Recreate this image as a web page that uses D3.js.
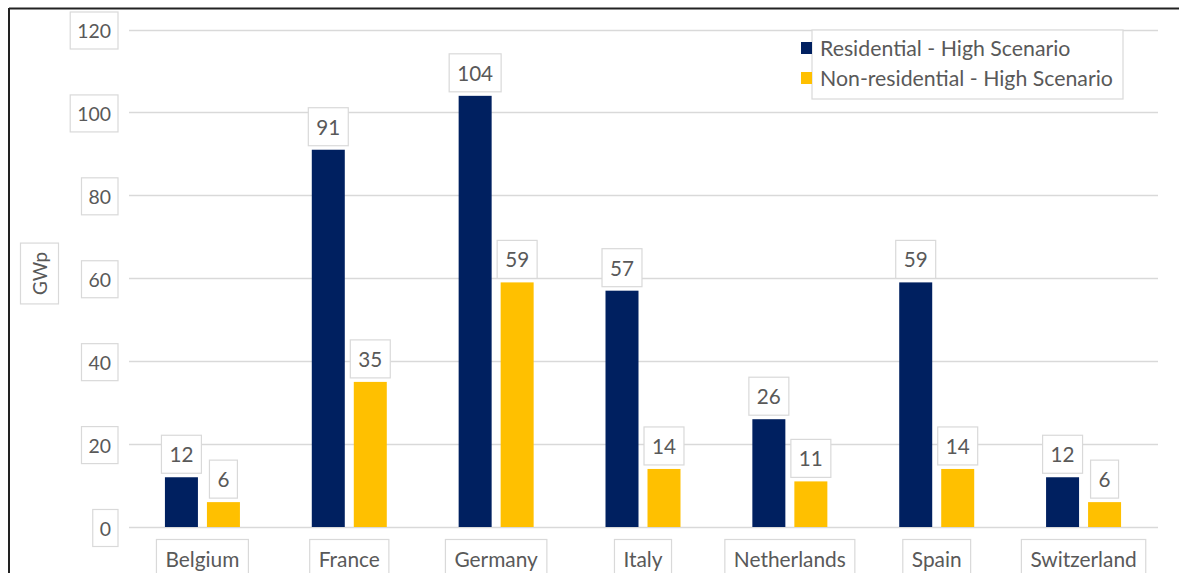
<!DOCTYPE html>
<html><head><meta charset="utf-8">
<script src="https://cdnjs.cloudflare.com/ajax/libs/d3/7.8.5/d3.min.js"></script>
<style>body{margin:0;background:#fff;}svg{display:block;}</style>
</head><body>
<svg id="c" width="1179" height="573"></svg>
<script>
const categories = ["Belgium","France","Germany","Italy","Netherlands","Spain","Switzerland"];
const seriesNames = ["Residential - High Scenario","Non-residential - High Scenario"];
const residential = [12,91,104,57,26,59,12];
const nonResidential = [6,35,59,14,11,14,6];
const yTicks = [0,20,40,60,80,100,120];
const yLabel = "GWp";
const colors = ["#002060","#FFC000"];

const svg = d3.select("#c");
const FONT = "Lato, 'Open Sans', sans-serif";
// calibrate font size so "Belgium" spans ~74px
const probe = svg.append("text").attr("font-family",FONT).attr("font-size",100).text("Belgium");
const wp = probe.node().getComputedTextLength(); probe.remove();
const F = 100*74/wp;
const textCol = "#595959", boxCol = "#d9d9d9";

// frame
svg.append("line").attr("x1",9).attr("x2",1179).attr("y1",8.5).attr("y2",8.5).attr("stroke","#222").attr("stroke-width",2);
svg.append("line").attr("x1",9).attr("x2",9).attr("y1",8).attr("y2",573).attr("stroke","#222").attr("stroke-width",2);

const y = d3.scaleLinear().domain([0,120]).range([527,29.5]);
const x0 = d3.scaleBand().domain(categories).range([129,1157]);
const groupW = 75;
const x1 = d3.scaleBand().domain(seriesNames).range([0,groupW]).paddingInner(2-75/42);

// gridlines
svg.append("g").selectAll("line").data(yTicks).join("line")
  .attr("x1",129).attr("x2",1158).attr("y1",d=>Math.round(y(d))+0.5).attr("y2",d=>Math.round(y(d))+0.5)
  .attr("stroke","#d9d9d9").attr("stroke-width",1.5);

function boxedText(g, txt, cx, cy, size, padX, h, anchor){
  const t = g.append("text").attr("font-family",FONT).attr("font-size",size).attr("fill",textCol)
    .attr("text-anchor","middle").attr("dominant-baseline","central").text(txt);
  const w = t.node().getComputedTextLength() + 2*padX;
  let left = anchor==="end" ? cx - w : cx - w/2;
  t.attr("x", left + w/2).attr("y", cy);
  g.insert("rect","text").attr("x",left).attr("y",cy-h/2).attr("width",w).attr("height",h)
    .attr("fill","#fff").attr("stroke",boxCol).attr("stroke-width",1.2);
  return t;
}

// y tick labels
const gy = svg.append("g");
yTicks.forEach(v=>{ const g=gy.append("g"); boxedText(g, String(v), 118, y(v)+1, F*0.93, 7, 37, "end"); });

// y label
const gl = svg.append("g").attr("transform","translate(39.5,273.5) rotate(-90)");
boxedText(gl, yLabel, 0, 0, F*0.9, 9, 38, "middle");

// bars
const data = categories.map((c,i)=>({c, vals:[residential[i], nonResidential[i]]}));
const gb = svg.append("g");
data.forEach(d=>{
  const gx = x0(d.c) + (x0.bandwidth()-groupW)/2;
  d.vals.forEach((v,j)=>{
    const bx = gx + x1(seriesNames[j]);
    gb.append("rect").attr("x",bx).attr("y",y(v)).attr("width",x1.bandwidth()).attr("height",y(0)-y(v)).attr("fill",colors[j]);
  });
});
// data labels
const gd = svg.append("g");
data.forEach(d=>{
  const gx = x0(d.c) + (x0.bandwidth()-groupW)/2;
  d.vals.forEach((v,j)=>{
    const cx = gx + x1(seriesNames[j]) + x1.bandwidth()/2;
    const g = gd.append("g");
    boxedText(g, String(v), cx, y(v)-4-19, F*0.99, 8, 38, "middle");
  });
});

// category labels
const gc = svg.append("g");
categories.forEach(c=>{
  const g = gc.append("g");
  boxedText(g, c, x0(c)+x0.bandwidth()/2, 558, F, 9, 37, "middle");
});

// legend
const lg = svg.append("g");
lg.append("rect").attr("x",812).attr("y",30).attr("width",311).attr("height",69).attr("fill","#fff").attr("stroke",boxCol).attr("stroke-width",1.2);
seriesNames.forEach((s,i)=>{
  const cy = 48 + i*30;
  lg.append("rect").attr("x",801).attr("y",cy-6).attr("width",11).attr("height",12).attr("fill",colors[i]);
  const t = lg.append("text").attr("x",820).attr("y",cy).attr("dominant-baseline","central")
    .attr("font-family",FONT).attr("font-size",F).attr("fill",textCol).text(s);
  if (i===1) { const w = t.node().getComputedTextLength(); t.attr("font-size", F*293/w); }
  else { t.attr("font-size", null); }
});
// keep both legend rows at the same size
const lt = lg.selectAll("text").nodes();
d3.select(lt[0]).attr("font-size", d3.select(lt[1]).attr("font-size"));
</script>
</body></html>
